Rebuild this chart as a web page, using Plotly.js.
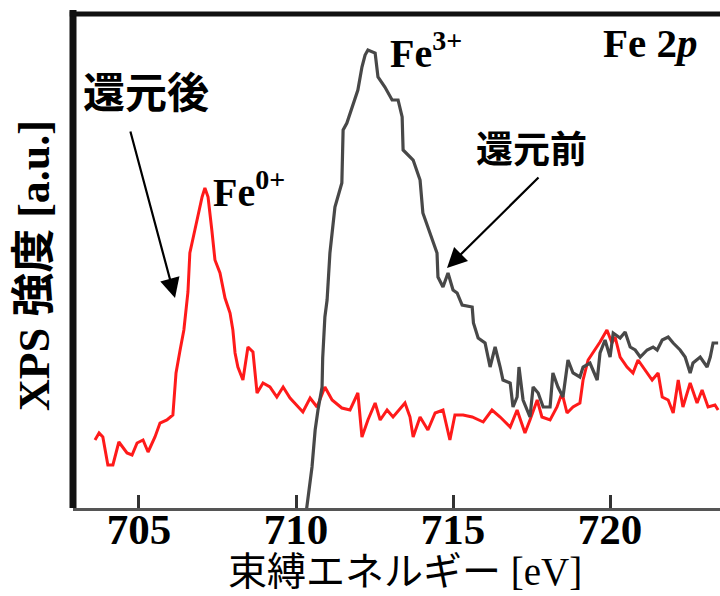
<!DOCTYPE html>
<html>
<head>
<meta charset="utf-8">
<script src="https://cdn.plot.ly/plotly-3.0.1.min.js"></script>
<style>html,body{margin:0;padding:0;background:#fff;}#chart{width:720px;height:596px;}</style>
</head>
<body>
<div id="chart"></div>
<script>
// 還元後 (after reduction) – red
const afterEnergy = [703.60,703.73,703.85,704.01,704.17,704.36,704.62,704.78,704.94,705.13,705.29,705.51,705.67,705.89,706.08,706.18,706.31,706.43,706.56,706.62,706.78,706.88,707.01,707.10,707.20,707.32,707.42,707.58,707.74,707.90,707.99,708.06,708.15,708.31,708.47,708.63,708.76,708.95,709.17,709.39,709.59,709.81,710.03,710.22,710.45,710.67,710.92,711.15,711.46,711.72,711.97,712.10,712.29,712.52,712.68,712.90,713.09,713.47,713.63,713.73,713.95,714.20,714.43,714.68,714.90,715.06,715.32,715.61,715.96,716.24,716.50,716.82,717.04,717.29,717.45,717.68,717.83,718.09,718.31,718.47,718.63,718.82,719.04,719.14,719.30,719.52,719.68,719.90,720.06,720.16,720.32,720.54,720.73,720.89,721.11,721.34,721.53,721.66,721.85,722.01,722.17,722.32,722.55,722.77,722.93,723.12,723.34,723.44];
const afterIntensity = [68,75,71,43,43,66,55,53,65,68,56,71,85,88,93,135,158,178,216,255,278,293,311,320,311,278,248,235,210,195,178,155,141,128,161,156,115,125,121,111,121,110,103,96,110,101,121,108,100,98,115,71,88,105,88,98,91,105,91,71,91,78,95,98,68,93,93,91,86,98,91,81,98,75,88,108,91,88,101,115,95,101,105,128,148,158,166,178,165,171,151,141,135,148,138,128,135,111,108,95,128,101,125,105,118,101,103,98];

// 還元前 (before reduction) – black
const beforeEnergy = [710.30,710.51,710.61,710.70,710.83,710.85,710.92,710.99,711.08,711.24,711.46,711.50,711.62,711.78,711.97,712.10,712.20,712.29,712.52,712.61,712.83,713.06,713.25,713.38,713.41,713.73,713.95,714.04,714.27,714.49,714.52,714.68,714.84,715.00,715.13,715.29,715.61,715.65,715.80,716.02,716.18,716.34,716.50,716.59,716.82,716.91,717.04,717.10,717.23,717.45,717.55,717.71,717.87,718.09,718.18,718.34,718.50,718.66,718.82,719.04,719.14,719.36,719.59,719.68,719.84,720.00,720.10,720.32,720.48,720.64,720.80,720.96,721.18,721.37,721.50,721.66,721.85,722.01,722.23,722.39,722.55,722.64,722.87,723.09,723.19,723.28,723.44];
const beforeIntensity = [-10,41,78,98,121,150,191,208,255,301,325,378,385,401,418,441,453,458,455,431,421,408,408,391,358,348,328,295,275,255,231,221,235,218,215,203,201,185,170,165,141,161,141,128,125,101,111,141,108,91,121,115,101,101,135,121,111,148,135,131,141,145,128,155,168,151,175,170,176,161,158,151,158,161,158,168,171,165,158,151,135,145,151,141,151,165,165];

const xTickValues = [705, 710, 715, 720];
const xTickLabels = ['705', '710', '715', '720'];

const serif = 'Liberation Serif, Times New Roman, Noto Sans CJK JP, serif';
const gothic = 'Noto Sans CJK JP, sans-serif';

const traces = [
  {x: afterEnergy, y: afterIntensity, type: 'scatter', mode: 'lines',
   line: {color: '#ff1a1a', width: 3}, name: '還元後'},
  {x: beforeEnergy, y: beforeIntensity, type: 'scatter', mode: 'lines',
   line: {color: '#484848', width: 3.2}, name: '還元前'}
];

const layout = {
  width: 720, height: 596,
  margin: {l: 73, r: 0, t: 14, b: 88},
  paper_bgcolor: '#fff', plot_bgcolor: '#fff',
  showlegend: false,
  xaxis: {
    range: [702.9, 723.5], showgrid: false, zeroline: false,
    showline: true, linecolor: '#555', linewidth: 3,
    ticks: 'inside', ticklen: 13, tickwidth: 3, tickcolor: '#333',
    tickmode: 'array', tickvals: xTickValues, ticktext: xTickLabels,
    ticklabelstandoff: -19,
    tickfont: {family: serif, size: 43, color: '#000', weight: 'bold'}
  },
  yaxis: {
    range: [0, 494], showgrid: false, zeroline: false,
    showline: false, ticks: '', showticklabels: false
  },
  shapes: [
    {type: 'line', xref: 'paper', yref: 'paper', x0: 0, x1: 0, y0: 0, y1: 1.008,
     line: {color: '#111', width: 7}},
    {type: 'line', xref: 'paper', yref: 'paper', x0: -0.005, x1: 1, y0: 1, y1: 1,
     line: {color: '#111', width: 5}}
  ],
  annotations: [
    {text: '束縛エネルギー [eV]', xref: 'paper', yref: 'paper', x: 0.513, y: -0.128,
     xanchor: 'center', yanchor: 'middle',
     showarrow: false, font: {family: serif, size: 39, color: '#000'}},
    {text: '<b>XPS 強度 [a.u.]</b>', xref: 'paper', yref: 'paper', x: -0.0587, y: 0.49,
     xanchor: 'center', yanchor: 'middle',
     textangle: -90, showarrow: false, font: {family: serif, size: 44, color: '#000'}},
    {text: '<b>還元後</b>', xref: 'paper', yref: 'paper', x: 0.1128, y: 0.848,
     xanchor: 'center', yanchor: 'middle',
     showarrow: false, font: {family: gothic, size: 42, color: '#000'}},
    {text: '<b>還元前</b>', xref: 'paper', yref: 'paper', x: 0.708, y: 0.731,
     xanchor: 'center', yanchor: 'middle',
     showarrow: false, font: {family: gothic, size: 37, color: '#000'}},
    {text: '<b>Fe<sup>0+</sup></b>', xref: 'paper', yref: 'paper', x: 0.2133, y: 0.644,
     xanchor: 'left', yanchor: 'middle', showarrow: false, font: {family: serif, size: 40, color: '#000'}},
    {text: '<b>Fe<sup>3+</sup></b>', xref: 'paper', yref: 'paper', x: 0.487, y: 0.926,
     xanchor: 'left', yanchor: 'middle', showarrow: false, font: {family: serif, size: 40, color: '#000'}},
    {text: '<b>Fe 2<i>p</i></b>', xref: 'paper', yref: 'paper', x: 0.969, y: 0.942,
     xanchor: 'right', yanchor: 'middle', showarrow: false, font: {family: serif, size: 41, color: '#000'}},
    {text: '', xref: 'paper', yref: 'paper', x: (175 - 73) / 647, y: (508 - 298) / 494,
     showarrow: true, ax: -45, ay: -168, arrowhead: 2, arrowsize: 1.8, arrowwidth: 2.2, arrowcolor: '#000'},
    {text: '', xref: 'paper', yref: 'paper', x: (447 - 73) / 647, y: (508 - 268) / 494,
     showarrow: true, ax: 93, ay: -92, arrowhead: 2, arrowsize: 1.8, arrowwidth: 2.2, arrowcolor: '#000'}
  ]
};

Plotly.newPlot('chart', traces, layout, {staticPlot: true, displayModeBar: false});
</script>
</body>
</html>
